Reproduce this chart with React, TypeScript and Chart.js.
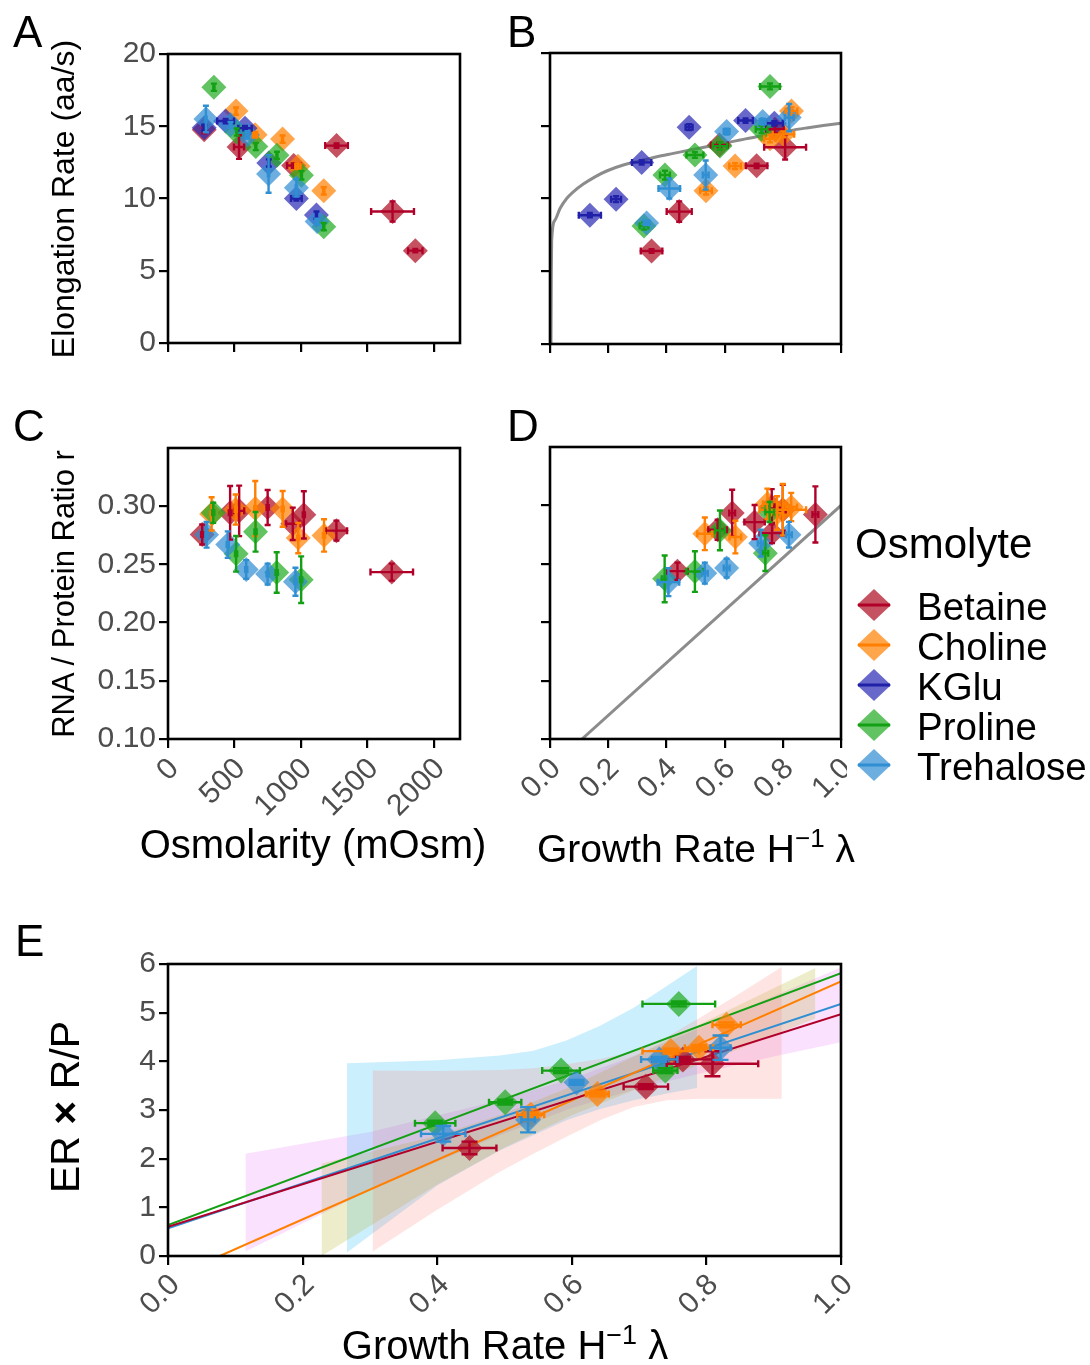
import React, { useEffect, useRef } from "react";
import { Chart, registerables } from "chart.js";

Chart.register(...registerables);

type Pt = [number, number, number, number]; // [x, y, xErr, yErr]

const FONT = '"Liberation Sans", Arial, Helvetica, sans-serif';
const TICK_COLOR = "#4D4D4D";

const osmolytes = ["Betaine", "Choline", "KGlu", "Proline", "Trehalose"];
const pointFill: any = {
  Betaine: "rgba(178,24,43,0.75)",
  Choline: "rgba(255,127,0,0.7)",
  KGlu: "rgba(40,40,180,0.7)",
  Proline: "rgba(30,170,30,0.7)",
  Trehalose: "rgba(45,140,210,0.7)",
};
const barColor: any = {
  Betaine: "#B0002A",
  Choline: "#FF7F00",
  KGlu: "#2020A8",
  Proline: "#14A014",
  Trehalose: "#2F8FD2",
};
const bandColor: any = {
  Betaine: "rgba(248,118,109,0.2)",
  Choline: "rgba(163,165,0,0.2)",
  Proline: "rgba(0,176,246,0.2)",
  Trehalose: "rgba(231,107,243,0.2)",
};

// ticks
const osmTicks = [0, 500, 1000, 1500, 2000];
const osmTickLabels = ["0", "500", "1000", "1500", "2000"];
const growthTicks = [0, 0.2, 0.4, 0.6, 0.8, 1.0];
const growthTickLabels = ["0.0", "0.2", "0.4", "0.6", "0.8", "1.0"];
const erTicks = [0, 5, 10, 15, 20];
const erTickLabels = ["0", "5", "10", "15", "20"];
const ratioTicks = [0.1, 0.15, 0.2, 0.25, 0.3];
const ratioTickLabels = ["0.10", "0.15", "0.20", "0.25", "0.30"];
const eTicks = [0, 1, 2, 3, 4, 5, 6];
const eTickLabels = ["0", "1", "2", "3", "4", "5", "6"];

// Panel A: osmolarity vs elongation rate
const A_Betaine: Pt[] = [[272, 14.76, 10, 0.25], [534, 13.56, 38, 0.82], [945, 12.28, 50, 0.15], [1267, 13.66, 85, 0.15], [1688, 9.1, 161, 0.7], [1859, 6.39, 54, 0.12]];
const A_Choline: Pt[] = [[511, 16.05, 4, 0.25], [655, 14.41, 15, 0.2], [861, 14.11, 4, 0.25], [977, 12.23, 20, 0.2], [1171, 10.53, 4, 0.25]];
const A_KGlu: Pt[] = [[272, 14.9, 5, 0.2], [433, 15.36, 63, 0.15], [579, 14.87, 50, 0.15], [758, 12.46, 4, 0.25], [965, 10.0, 40, 0.15], [1116, 8.85, 4, 0.25]];
const A_Proline: Pt[] = [[345, 17.7, 4, 0.25], [516, 14.6, 4, 0.25], [660, 13.6, 4, 0.25], [819, 12.99, 4, 0.25], [1003, 11.61, 4, 0.3], [1171, 8.05, 4, 0.25]];
const A_Trehalose: Pt[] = [[285, 15.5, 5, 0.92], [470, 15.1, 5, 0.2], [597, 14.4, 10, 0.25], [756, 11.7, 5, 1.3], [965, 10.74, 5, 0.6], [1121, 8.4, 5, 0.2]];

// Panel B: growth rate vs elongation rate
const B_Betaine: Pt[] = [[0.349, 6.39, 0.037, 0.12], [0.444, 9.1, 0.043, 0.7], [0.582, 13.68, 0.029, 0.15], [0.71, 12.25, 0.037, 0.15], [0.808, 13.52, 0.072, 0.84], [0.773, 14.76, 0.03, 0.25]];
const B_Choline: Pt[] = [[0.83, 16.02, 0.02, 0.25], [0.802, 14.41, 0.037, 0.2], [0.756, 14.11, 0.02, 0.25], [0.636, 12.23, 0.02, 0.2], [0.536, 10.53, 0.02, 0.25]];
const B_KGlu: Pt[] = [[0.137, 8.85, 0.038, 0.15], [0.227, 9.95, 0.017, 0.2], [0.315, 12.48, 0.033, 0.15], [0.478, 14.9, 0.012, 0.2], [0.672, 15.36, 0.025, 0.15], [0.771, 15.17, 0.029, 0.15]];
const B_Proline: Pt[] = [[0.756, 17.7, 0.034, 0.2], [0.727, 14.76, 0.02, 0.25], [0.584, 13.6, 0.025, 0.25], [0.498, 12.99, 0.029, 0.2], [0.395, 11.61, 0.017, 0.3], [0.323, 8.11, 0.015, 0.25]];
const B_Trehalose: Pt[] = [[0.332, 8.32, 0.01, 0.15], [0.41, 10.69, 0.037, 0.69], [0.535, 11.61, 0.01, 1.0], [0.607, 14.6, 0.01, 0.2], [0.731, 15.29, 0.01, 0.2], [0.822, 15.56, 0.015, 0.94]];
const B_curveX = [0.0034, 0.0046, 0.0057, 0.0172, 0.0344, 0.0573, 0.0802, 0.1145, 0.1546, 0.1947, 0.252, 0.309, 0.367, 0.424, 0.481, 0.538, 0.596, 0.653, 0.71, 0.767, 0.825, 0.882, 0.939, 1.0];
const B_curveY = [0, 4.83, 7.13, 8.51, 9.31, 10.0, 10.46, 10.99, 11.49, 11.89, 12.3, 12.57, 12.87, 13.1, 13.33, 13.56, 13.79, 14.02, 14.25, 14.44, 14.67, 14.85, 15.01, 15.17];

// Panel C: osmolarity vs RNA/protein ratio
const C_Betaine: Pt[] = [[257, 0.2757, 8, 0.0086], [467, 0.2943, 10, 0.023], [535, 0.296, 38, 0.0217], [749, 0.2989, 8, 0.015], [938, 0.2849, 50, 0.0139], [1021, 0.2926, 8, 0.0203], [1266, 0.279, 80, 0.0086], [1682, 0.2434, 160, 0.0073]];
const C_Choline: Pt[] = [[328, 0.2934, 8, 0.0143], [509, 0.2971, 8, 0.0129], [656, 0.298, 8, 0.0236], [862, 0.2977, 8, 0.0153], [979, 0.2726, 8, 0.013], [1173, 0.2749, 8, 0.0139]];
const C_Proline: Pt[] = [[340, 0.2943, 8, 0.0086], [512, 0.2591, 8, 0.0153], [658, 0.278, 8, 0.017], [817, 0.2431, 8, 0.0174], [1001, 0.2369, 8, 0.02]];
const C_Trehalose: Pt[] = [[290, 0.2754, 8, 0.011], [449, 0.267, 8, 0.0114], [588, 0.2457, 8, 0.008], [749, 0.2417, 8, 0.009], [958, 0.2351, 8, 0.012]];

// Panel D: growth rate vs RNA/protein ratio
const D_Betaine: Pt[] = [[0.438, 0.2437, 0.035, 0.0073], [0.576, 0.2791, 0.032, 0.0086], [0.626, 0.2934, 0.01, 0.02], [0.703, 0.2857, 0.035, 0.0146], [0.763, 0.2763, 0.043, 0.0086], [0.762, 0.2989, 0.01, 0.015], [0.8, 0.296, 0.01, 0.0217], [0.912, 0.2923, 0.01, 0.024]];
const D_Choline: Pt[] = [[0.532, 0.2757, 0.026, 0.014], [0.637, 0.2729, 0.02, 0.014], [0.747, 0.3014, 0.015, 0.013], [0.8, 0.2963, 0.08, 0.022], [0.829, 0.2986, 0.02, 0.0121], [0.78, 0.2935, 0.02, 0.0143]];
const D_Proline: Pt[] = [[0.394, 0.2371, 0.01, 0.02], [0.498, 0.2434, 0.029, 0.0174], [0.584, 0.2786, 0.017, 0.017], [0.74, 0.2591, 0.01, 0.0153], [0.755, 0.2943, 0.015, 0.0086]];
const D_Trehalose: Pt[] = [[0.407, 0.2343, 0.037, 0.012], [0.532, 0.242, 0.01, 0.009], [0.607, 0.2463, 0.01, 0.008], [0.724, 0.2677, 0.01, 0.0114], [0.821, 0.2749, 0.01, 0.011]];
const D_lineX = [0.11, 1.0];
const D_lineY = [0.1, 0.3];

// Panel E: growth rate vs ER x R / P
const E_Betaine: Pt[] = [[0.448, 2.22, 0.04, 0.13], [0.71, 3.48, 0.033, 0.05], [0.765, 4.04, 0.045, 0.05], [0.809, 3.95, 0.068, 0.256]];
const E_Choline: Pt[] = [[0.539, 2.9, 0.02, 0.05], [0.638, 3.33, 0.017, 0.05], [0.747, 4.21, 0.042, 0.05], [0.789, 4.28, 0.021, 0.05], [0.83, 4.75, 0.021, 0.05]];
const E_Proline: Pt[] = [[0.397, 2.73, 0.03, 0.05], [0.501, 3.16, 0.024, 0.05], [0.584, 3.81, 0.028, 0.05], [0.739, 3.81, 0.018, 0.05], [0.759, 5.18, 0.054, 0.05]];
const E_Trehalose: Pt[] = [[0.409, 2.51, 0.033, 0.16], [0.535, 2.8, 0.01, 0.26], [0.607, 3.57, 0.01, 0.05], [0.73, 4.04, 0.027, 0.05], [0.821, 4.28, 0.015, 0.25]];

const E_fitBetaine = [[0, 0.6], [1, 4.97]];
const E_fitCholine = [[0.077, 0], [1, 5.64]];
const E_fitProline = [[0, 0.635], [1, 5.81]];
const E_fitTrehalose = [[0, 0.567], [1, 5.18]];

const E_bandBetaineX = [0.304, 0.4, 0.493, 0.543, 0.592, 0.642, 0.692, 0.741, 0.791, 0.85, 0.912];
const E_bandBetaineLo = [0.09, 0.95, 1.73, 2.1, 2.45, 2.79, 3.06, 3.2, 3.23, 3.23, 3.23];
const E_bandBetaineHi = [3.81, 3.8, 3.82, 3.86, 3.94, 4.05, 4.2, 4.5, 4.9, 5.4, 5.94];
const E_bandCholineX = [0.228, 0.4, 0.5, 0.6, 0.7, 0.8, 0.9, 0.962];
const E_bandCholineLo = [0.0, 1.47, 2.23, 2.89, 3.45, 3.99, 4.54, 4.88];
const E_bandCholineHi = [1.9, 2.47, 2.93, 3.49, 4.15, 4.83, 5.5, 5.92];
const E_bandProlineX = [0.266, 0.4, 0.493, 0.543, 0.592, 0.642, 0.692, 0.741, 0.786];
const E_bandProlineLo = [0.07, 1.45, 2.17, 2.48, 2.79, 3.02, 3.2, 3.34, 3.45];
const E_bandProlineHi = [3.96, 4.02, 4.12, 4.22, 4.43, 4.73, 5.1, 5.55, 5.96];
const E_bandTrehaloseX = [0.115, 0.3, 0.493, 0.6, 0.7, 0.8, 0.9, 1.0];
const E_bandTrehaloseLo = [0.09, 1.35, 2.48, 3.04, 3.45, 3.78, 4.1, 4.39];
const E_bandTrehaloseHi = [2.1, 2.55, 3.2, 3.64, 4.15, 4.74, 5.34, 5.93];

type Series = { name: string; pts: Pt[] };

const toXY = (xs: number[], ys: number[]) => xs.map((x, i) => ({ x, y: ys[i] }));

function bandDatasets(name: string, xs: number[], lo: number[], hi: number[]) {
  return [
    { type: "line", data: toXY(xs, lo), showLine: true, borderColor: "rgba(0,0,0,0)", borderWidth: 0, pointRadius: 0, fill: false, order: 10 },
    { type: "line", data: toXY(xs, hi), showLine: true, borderColor: "rgba(0,0,0,0)", borderWidth: 0, pointRadius: 0, fill: "-1", backgroundColor: bandColor[name], order: 10 },
  ];
}

function fitDataset(name: string, pts: number[][]) {
  return { type: "line", data: pts.map((p) => ({ x: p[0], y: p[1] })), showLine: true, borderColor: barColor[name], borderWidth: 2, pointRadius: 0, fill: false, order: 5 };
}

function makeConfig(spec: any) {
  const series: Series[] = spec.series;
  const pointOrder: any = { Betaine: 1.5, Choline: 1.4, KGlu: 1.3, Proline: 1.2, Trehalose: 1.1 };
  const datasets: any[] = [
    ...(spec.extra || []),
    ...series.map((s) => ({
      type: "scatter",
      label: s.name,
      data: s.pts.map((p) => ({ x: p[0], y: p[1] })),
      pointStyle: "rectRot",
      pointRadius: spec.radius,
      pointBackgroundColor: pointFill[s.name],
      pointBorderColor: "rgba(0,0,0,0)",
      pointBorderWidth: 0,
      showLine: false,
      order: pointOrder[s.name],
    })),
  ];

  const errPlugin = {
    id: "errbars",
    afterDatasetsDraw(chart: any) {
      const ctx = chart.ctx;
      const xs = chart.scales.x;
      const ys = chart.scales.y;
      ctx.save();
      ctx.lineWidth = 2.4;
      series.forEach((s) => {
        ctx.strokeStyle = barColor[s.name];
        s.pts.forEach(([x, y, xe, ye]) => {
          const px = xs.getPixelForValue(x);
          const py = ys.getPixelForValue(y);
          ctx.beginPath();
          if (ye > 0) {
            const y1 = ys.getPixelForValue(y - ye);
            const y2 = ys.getPixelForValue(y + ye);
            ctx.moveTo(px, y1); ctx.lineTo(px, y2);
            ctx.moveTo(px - spec.capV, y1); ctx.lineTo(px + spec.capV, y1);
            ctx.moveTo(px - spec.capV, y2); ctx.lineTo(px + spec.capV, y2);
          }
          if (xe > 0) {
            const x1 = xs.getPixelForValue(x - xe);
            const x2 = xs.getPixelForValue(x + xe);
            ctx.moveTo(x1, py); ctx.lineTo(x2, py);
            ctx.moveTo(x1, py - spec.capH); ctx.lineTo(x1, py + spec.capH);
            ctx.moveTo(x2, py - spec.capH); ctx.lineTo(x2, py + spec.capH);
          }
          ctx.stroke();
        });
      });
      ctx.restore();
    },
  };

  const frame = {
    id: "frame",
    afterDraw(chart: any) {
      const ctx = chart.ctx;
      const a = chart.chartArea;
      ctx.save();
      if (spec.xLabels) {
        const xs = chart.scales.x;
        ctx.fillStyle = TICK_COLOR;
        ctx.font = `${spec.tickSize}px ${FONT}`;
        ctx.textAlign = "right";
        ctx.textBaseline = "alphabetic";
        spec.xTicks.forEach((v: number, i: number) => {
          const px = xs.getPixelForValue(v);
          ctx.save();
          ctx.translate(px + spec.xLabelDx, a.bottom + spec.xLabelDy);
          ctx.rotate(-Math.PI / 4);
          ctx.fillText(spec.xLabels[i], 0, 0);
          ctx.restore();
        });
      }
      ctx.strokeStyle = "#000";
      ctx.lineWidth = 2.6;
      ctx.strokeRect(a.left, a.top, a.right - a.left, a.bottom - a.top);
      ctx.restore();
    },
  };

  const gridOpts = { display: true, drawOnChartArea: false, drawTicks: true, tickLength: 9, color: "#000", lineWidth: 2.2 };

  return {
    type: "scatter",
    data: { datasets },
    options: {
      responsive: false,
      animation: false,
      devicePixelRatio: 1,
      layout: { autoPadding: false, padding: { left: 0, top: spec.padT, right: spec.padR, bottom: 0 } },
      plugins: { legend: { display: false }, tooltip: { enabled: false } },
      scales: {
        x: {
          type: "linear",
          position: "bottom",
          min: spec.xMin,
          max: spec.xMax,
          afterBuildTicks: (s: any) => { s.ticks = spec.xTicks.map((v: number) => ({ value: v })); },
          afterFit: (s: any) => { s.height = spec.padB; },
          grid: gridOpts,
          border: { display: false },
          ticks: { display: false },
        },
        y: {
          type: "linear",
          position: "left",
          min: spec.yMin,
          max: spec.yMax,
          afterBuildTicks: (s: any) => { s.ticks = spec.yTicks.map((v: number) => ({ value: v })); },
          afterFit: (s: any) => { s.width = spec.padL; },
          grid: gridOpts,
          border: { display: false },
          ticks: {
            display: !!spec.yLabels,
            color: TICK_COLOR,
            padding: 3,
            font: { family: FONT, size: spec.tickSize },
            callback: (_v: any, i: number) => (spec.yLabels ? spec.yLabels[i] : ""),
          },
        },
      },
    },
    plugins: [errPlugin, frame],
  };
}

function Panel({ spec }: { spec: any }) {
  const ref = useRef<HTMLCanvasElement>(null);
  const w = spec.padL + (spec.right - spec.left) + spec.padR;
  const h = spec.padT + (spec.bottom - spec.top) + spec.padB;
  useEffect(() => {
    const chart = new Chart(ref.current as HTMLCanvasElement, makeConfig(spec) as any);
    return () => chart.destroy();
  }, []);
  return (
    <canvas
      ref={ref}
      width={w}
      height={h}
      style={{ position: "absolute", left: spec.left - spec.padL, top: spec.top - spec.padT, width: w, height: h }}
    />
  );
}

const panelA = {
  left: 168, top: 53, right: 460, bottom: 344, padL: 90, padT: 20, padR: 20, padB: 20,
  xMin: 0, xMax: 2195, xTicks: osmTicks, xLabels: null,
  yMin: 0, yMax: 20, yTicks: erTicks, yLabels: erTickLabels,
  tickSize: 30, radius: 12.5, capV: 3, capH: 3.5,
  series: [
    { name: "Betaine", pts: A_Betaine }, { name: "Choline", pts: A_Choline }, { name: "KGlu", pts: A_KGlu },
    { name: "Proline", pts: A_Proline }, { name: "Trehalose", pts: A_Trehalose },
  ],
};

const panelB = {
  left: 550, top: 53, right: 841, bottom: 344, padL: 20, padT: 20, padR: 20, padB: 20,
  xMin: 0, xMax: 1, xTicks: growthTicks, xLabels: null,
  yMin: 0, yMax: 20, yTicks: erTicks, yLabels: null,
  tickSize: 30, radius: 12.5, capV: 3, capH: 3.5,
  extra: [
    { type: "line", data: toXY(B_curveX, B_curveY), showLine: true, borderColor: "#8C8C8C", borderWidth: 3, pointRadius: 0, fill: false, cubicInterpolationMode: "monotone", order: 5 },
  ],
  series: [
    { name: "Betaine", pts: B_Betaine }, { name: "Choline", pts: B_Choline }, { name: "KGlu", pts: B_KGlu },
    { name: "Proline", pts: B_Proline }, { name: "Trehalose", pts: B_Trehalose },
  ],
};

const panelC = {
  left: 168, top: 447, right: 460, bottom: 739, padL: 90, padT: 20, padR: 20, padB: 100,
  xMin: 0, xMax: 2195, xTicks: osmTicks, xLabels: osmTickLabels, xLabelDx: 12, xLabelDy: 31,
  yMin: 0.1, yMax: 0.35, yTicks: ratioTicks, yLabels: ratioTickLabels,
  tickSize: 30, radius: 12.5, capV: 3, capH: 3.5,
  series: [
    { name: "Betaine", pts: C_Betaine }, { name: "Choline", pts: C_Choline },
    { name: "Proline", pts: C_Proline }, { name: "Trehalose", pts: C_Trehalose },
  ],
};

const panelD = {
  left: 550, top: 447, right: 841, bottom: 739, padL: 60, padT: 20, padR: 6, padB: 100,
  xMin: 0, xMax: 1, xTicks: growthTicks, xLabels: growthTickLabels, xLabelDx: 12, xLabelDy: 31,
  yMin: 0.1, yMax: 0.35, yTicks: ratioTicks, yLabels: null,
  tickSize: 30, radius: 12.5, capV: 3, capH: 3.5,
  extra: [
    { type: "line", data: toXY(D_lineX, D_lineY), showLine: true, borderColor: "#8C8C8C", borderWidth: 3, pointRadius: 0, fill: false, order: 5 },
  ],
  series: [
    { name: "Betaine", pts: D_Betaine }, { name: "Choline", pts: D_Choline },
    { name: "Proline", pts: D_Proline }, { name: "Trehalose", pts: D_Trehalose },
  ],
};

const panelE = {
  left: 168, top: 963, right: 841, bottom: 1256, padL: 90, padT: 20, padR: 30, padB: 100,
  xMin: 0, xMax: 1, xTicks: growthTicks, xLabels: growthTickLabels, xLabelDx: 13, xLabelDy: 30,
  yMin: 0, yMax: 6, yTicks: eTicks, yLabels: eTickLabels,
  tickSize: 30, radius: 13, capV: 8, capH: 3.5,
  extra: [
    ...bandDatasets("Betaine", E_bandBetaineX, E_bandBetaineLo, E_bandBetaineHi),
    ...bandDatasets("Choline", E_bandCholineX, E_bandCholineLo, E_bandCholineHi),
    ...bandDatasets("Proline", E_bandProlineX, E_bandProlineLo, E_bandProlineHi),
    ...bandDatasets("Trehalose", E_bandTrehaloseX, E_bandTrehaloseLo, E_bandTrehaloseHi),
    fitDataset("Betaine", E_fitBetaine),
    fitDataset("Choline", E_fitCholine),
    fitDataset("Proline", E_fitProline),
    fitDataset("Trehalose", E_fitTrehalose),
  ],
  series: [
    { name: "Betaine", pts: E_Betaine }, { name: "Choline", pts: E_Choline },
    { name: "Proline", pts: E_Proline }, { name: "Trehalose", pts: E_Trehalose },
  ],
};

function Labels() {
  const t = { fontFamily: FONT, fill: "#000" } as any;
  return (
    <svg width={1090} height={1365} style={{ position: "absolute", left: 0, top: 0, pointerEvents: "none" }}>
      <text x={13} y={47} fontSize={44} {...t}>A</text>
      <text x={507} y={47} fontSize={44} {...t}>B</text>
      <text x={13} y={441} fontSize={44} {...t}>C</text>
      <text x={507} y={441} fontSize={44} {...t}>D</text>
      <text x={15} y={956} fontSize={44} {...t}>E</text>

      <text transform="translate(74,199) rotate(-90)" textAnchor="middle" fontSize={32} {...t}>Elongation Rate (aa/s)</text>
      <text transform="translate(74,594) rotate(-90)" textAnchor="middle" fontSize={31} {...t}>RNA / Protein Ratio r</text>
      <text transform="translate(79,1107) rotate(-90)" textAnchor="middle" fontSize={41} {...t}>
        ER <tspan fontWeight="bold">×</tspan> R/P
      </text>

      <text x={313} y={858} textAnchor="middle" fontSize={40} {...t}>Osmolarity (mOsm)</text>
      <text x={696} y={862} textAnchor="middle" fontSize={39} {...t}>
        Growth Rate H<tspan dy={-15} fontSize={26}>−1</tspan><tspan dy={15}> λ</tspan>
      </text>
      <text x={505} y={1359} textAnchor="middle" fontSize={40} {...t}>
        Growth Rate H<tspan dy={-15} fontSize={27}>−1</tspan><tspan dy={15}> λ</tspan>
      </text>

      <text x={855} y={558} fontSize={42} {...t}>Osmolyte</text>
      {osmolytes.map((name, i) => {
        const cy = 605 + 40 * i;
        const cx = 874;
        return (
          <g key={name}>
            <polygon points={`${cx - 17},${cy} ${cx},${cy - 16} ${cx + 17},${cy} ${cx},${cy + 16}`} fill={pointFill[name]} />
            <line x1={cx - 16} x2={cx + 16} y1={cy} y2={cy} stroke={barColor[name]} strokeWidth={3} />
            <text x={917} y={cy + 15} fontSize={38.5} {...t}>{name}</text>
          </g>
        );
      })}
    </svg>
  );
}

export default function App() {
  return (
    <div style={{ position: "absolute", left: 0, top: 0, width: 1090, height: 1365, background: "#fff", overflow: "hidden" }}>
      <Panel spec={panelA} />
      <Panel spec={panelB} />
      <Panel spec={panelC} />
      <Panel spec={panelD} />
      <Panel spec={panelE} />
      <Labels />
    </div>
  );
}
